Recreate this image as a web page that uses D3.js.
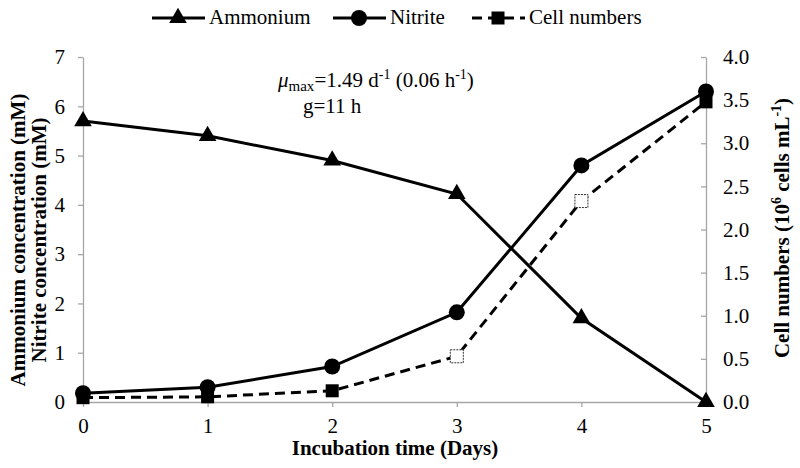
<!DOCTYPE html>
<html>
<head>
<meta charset="utf-8">
<script src="https://cdn.jsdelivr.net/npm/d3@7"></script>
<style>
  body { margin: 0; background: #fff; }
  svg text { font-family: "Liberation Serif", "Times New Roman", serif; }
</style>
</head>
<body>
<div id="chart"></div>
<script>
// data
const days = [0, 1, 2, 3, 4, 5];
const ammonium = [5.7, 5.4, 4.9, 4.22, 1.7, 0.0];
const nitrite = [0.18, 0.3, 0.72, 1.82, 4.8, 6.3];
const cellNumbers = [0.05, 0.06, 0.13, 0.53, 2.33, 3.48];
const cellOpen = [false, false, false, true, true, false];
const leftTicks = [0, 1, 2, 3, 4, 5, 6, 7];
const rightTicks = [0, 0.5, 1, 1.5, 2, 2.5, 3, 3.5, 4];

const width = 800, height = 468;
const margin = { left: 83, right: 94, top: 57, bottom: 66 };
const serif = '"Liberation Serif", "Times New Roman", serif';
const fs = 21;

const svg = d3.select('#chart').append('svg')
    .attr('width', width)
    .attr('height', height)
    .attr('font-family', serif);

const x = d3.scaleLinear().domain([0, 5]).range([margin.left, width - margin.right]);
const yL = d3.scaleLinear().domain([0, 7]).range([height - margin.bottom, margin.top]);
const yR = d3.scaleLinear().domain([0, 4]).range([height - margin.bottom, margin.top]);

const axisColor = '#a6a6a6';

// x axis
const gx = svg.append('g')
    .attr('transform', `translate(0,${height - margin.bottom})`)
    .call(d3.axisBottom(x).tickValues(days).tickFormat(d3.format('d'))
        .tickSize(5).tickSizeOuter(0).tickPadding(11));
// left axis
const gl = svg.append('g')
    .attr('transform', `translate(${margin.left},0)`)
    .call(d3.axisLeft(yL).tickValues(leftTicks).tickFormat(d3.format('d'))
        .tickSize(5).tickSizeOuter(0).tickPadding(13));
// right axis (ticks point inward)
const gr = svg.append('g')
    .attr('transform', `translate(${width - margin.right},0)`)
    .call(d3.axisRight(yR).tickValues(rightTicks).tickFormat(d3.format('.1f'))
        .tickSize(-5).tickSizeOuter(0));

[gx, gl, gr].forEach(g => {
    g.attr('font-family', serif).attr('font-size', fs);
    g.select('.domain').attr('stroke', axisColor).attr('stroke-width', 1.3);
    g.selectAll('.tick line').attr('stroke', axisColor).attr('stroke-width', 1.3);
    g.selectAll('.tick text').attr('fill', '#000');
});
gr.selectAll('.tick text').attr('x', 17);

// lines
const lineL = d3.line().x((d, i) => x(days[i])).y(d => yL(d));
const lineR = d3.line().x((d, i) => x(days[i])).y(d => yR(d));

svg.append('path').datum(ammonium)
    .attr('d', lineL).attr('fill', 'none').attr('stroke', '#000').attr('stroke-width', 3);
svg.append('path').datum(nitrite)
    .attr('d', lineL).attr('fill', 'none').attr('stroke', '#000').attr('stroke-width', 3);
svg.append('path').datum(cellNumbers)
    .attr('d', lineR).attr('fill', 'none').attr('stroke', '#000').attr('stroke-width', 3)
    .attr('stroke-dasharray', '10,6');

// markers
const tri = d3.symbol().type(d3.symbolTriangle).size(135);
svg.selectAll('.amm').data(ammonium).enter().append('path')
    .attr('class', 'amm')
    .attr('d', tri)
    .attr('transform', (d, i) => `translate(${x(days[i])},${yL(d)})`)
    .attr('fill', '#000');

svg.selectAll('.nit').data(nitrite).enter().append('circle')
    .attr('class', 'nit')
    .attr('cx', (d, i) => x(days[i]))
    .attr('cy', d => yL(d))
    .attr('r', 8)
    .attr('fill', '#000');

svg.selectAll('.cell').data(cellNumbers).enter().append('rect')
    .attr('class', 'cell')
    .attr('x', (d, i) => x(days[i]) - 6.5)
    .attr('y', d => yR(d) - 6.5)
    .attr('width', 13).attr('height', 13)
    .attr('fill', (d, i) => cellOpen[i] ? '#fff' : '#000')
    .attr('stroke', (d, i) => cellOpen[i] ? '#333' : 'none')
    .attr('stroke-width', 1)
    .attr('stroke-dasharray', (d, i) => cellOpen[i] ? '2,1' : null);

// legend
const legend = svg.append('g').attr('transform', 'translate(0,18)');
const legendItems = [
    { label: 'Ammonium', x0: 152, dash: null, mark: 'tri' },
    { label: 'Nitrite', x0: 333, dash: null, mark: 'circle' },
    { label: 'Cell numbers', x0: 472, dash: '10,6', mark: 'square' }
];
legendItems.forEach(it => {
    legend.append('line')
        .attr('x1', it.x0).attr('x2', it.x0 + 53)
        .attr('y1', 0).attr('y2', 0)
        .attr('stroke', '#000').attr('stroke-width', 3)
        .attr('stroke-dasharray', it.dash);
    const cx = it.x0 + 26;
    if (it.mark === 'tri') {
        legend.append('path').attr('d', tri).attr('transform', `translate(${cx},0)`).attr('fill', '#000');
    } else if (it.mark === 'circle') {
        legend.append('circle').attr('cx', cx).attr('cy', 0).attr('r', 8).attr('fill', '#000');
    } else {
        legend.append('rect').attr('x', cx - 6.5).attr('y', -6.5).attr('width', 13).attr('height', 13).attr('fill', '#000');
    }
    legend.append('text')
        .attr('x', it.x0 + 57).attr('y', 6)
        .style('font-size', fs + 'px')
        .text(it.label);
});

// axis titles
svg.append('text')
    .attr('x', 395).attr('y', 455)
    .attr('text-anchor', 'middle')
    .style('font-size', fs + 'px').style('font-weight', 'bold')
    .text('Incubation time (Days)');

const leftTitle = svg.append('text')
    .attr('transform', 'translate(25,240) rotate(-90)')
    .attr('text-anchor', 'middle')
    .style('font-size', fs + 'px').style('font-weight', 'bold');
leftTitle.append('tspan').attr('x', 0).attr('dy', 0).text('Ammonium concentration (mM)');
leftTitle.append('tspan').attr('x', 0).attr('dy', 21).text('Nitrite concentration (mM)');

const rightTitle = svg.append('text')
    .attr('transform', 'translate(789,228) rotate(-90)')
    .attr('text-anchor', 'middle')
    .style('font-size', fs + 'px').style('font-weight', 'bold');
rightTitle.append('tspan').text('Cell numbers  (10');
rightTitle.append('tspan').attr('dy', -8).style('font-size', '14px').text('6');
rightTitle.append('tspan').attr('dy', 8).text(' cells mL');
rightTitle.append('tspan').attr('dy', -8).style('font-size', '14px').text('-1');
rightTitle.append('tspan').attr('dy', 8).text(')');

// annotation
const ann = svg.append('text')
    .attr('x', 278).attr('y', 87)
    .style('font-size', fs + 'px');
ann.append('tspan').style('font-style', 'italic').text('μ');
ann.append('tspan').attr('dy', 4).style('font-size', '15px').text('max');
ann.append('tspan').attr('dy', -4).text('=1.49 d');
ann.append('tspan').attr('dy', -8).style('font-size', '14px').text('-1');
ann.append('tspan').attr('dy', 8).text(' (0.06 h');
ann.append('tspan').attr('dy', -8).style('font-size', '14px').text('-1');
ann.append('tspan').attr('dy', 8).text(')');

svg.append('text')
    .attr('x', 303).attr('y', 113)
    .style('font-size', fs + 'px')
    .text('g=11 h');
</script>
</body>
</html>
